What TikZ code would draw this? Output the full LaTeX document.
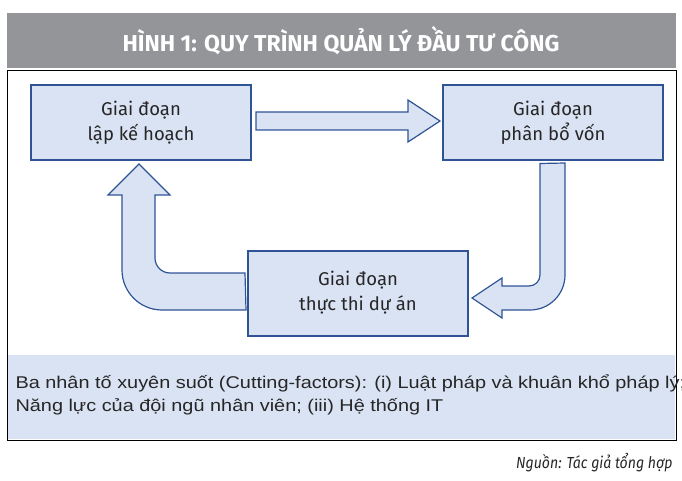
\documentclass[tikz,border=0pt]{standalone}
\usepackage{fontspec}
\setmainfont{Fira Sans}
\newfontfamily\arialfont{Liberation Sans}
\definecolor{boxfill}{RGB}{218,227,243}
\definecolor{boxline}{RGB}{47,84,150}
\definecolor{bandgray}{RGB}{148,149,153}
\tikzset{
  stagebox/.style={draw=boxline,line width=2pt,fill=boxfill,minimum width=220pt,minimum height=75pt,align=center,font=\fontsize{18.5}{25}\selectfont,text=black!85},
  bigarrow/.style={draw=boxline,line width=1.2pt,fill=boxfill}
}
\begin{document}
\begin{tikzpicture}[x=1pt,y=-1pt]
\useasboundingbox (0,0) rectangle (682,481);

% title band and frame
\fill [bandgray] (7,13) rectangle (676,68);
\node [text=white,font=\fontsize{23}{25}\selectfont\bfseries] (title) at (341,41){HÌNH 1: QUY TRÌNH QUẢN LÝ ĐẦU TƯ CÔNG};
\draw [black,line width=0.8pt] (7,70) rectangle (676,440);

\node [stagebox] (plan) at (141,123){Giai đoạn\\lập kế hoạch};
\node [stagebox] (alloc) at (553,123){Giai đoạn\\phân bổ vốn};
\node [stagebox,minimum height=85pt] (exec) at (358,293){Giai đoạn\\thực thi dự án};

% straight arrow
\draw [bigarrow] (plan.east) ++(4,-11) -- (408,112) -- (408,100) -- (440,121) -- (408,142) -- (408,130) -- (256,130) -- cycle;

% curved arrows
\draw [bigarrow] (alloc.south) ++(-13,2) -- (565,163) -- (565,275) arc[start angle=0,end angle=90,radius=35]
  -- (502,310) -- (502,318) -- (472,298) -- (502,278) -- (502,286) -- (529,286)
  arc[start angle=90,end angle=0,radius=11] -- cycle;
\draw [bigarrow] (exec.west) ++(-2,-20) -- (170,273) arc[start angle=90,end angle=180,radius=15]
  -- (155,195) -- (170,195) -- (139,164) -- (108,195) -- (122,195) -- (122,270)
  arc[start angle=180,end angle=90,radius=40] -- (246,310) -- cycle;

% factors box
\fill [boxfill] (8,355) rectangle (675,439);
\node [anchor=north west,align=left,font=\arialfont\fontsize{17}{23}\selectfont,text=black!85] (factors) at (12,371)
  {\scalebox{1.17}[1]{Ba nhân tố xuyên suốt (Cutting-factors): (i) Luật pháp và khuân khổ pháp lý; (ii)}\\\scalebox{1.17}[1]{Năng lực của đội ngũ nhân viên; (iii) Hệ thống IT}};

\node [anchor=east,font=\fontsize{16}{18}\selectfont\itshape\addfontfeatures{FakeStretch=0.88},text=black!85] (source) at (676,463){Nguồn: Tác giả tổng hợp};
\end{tikzpicture}
\end{document}
